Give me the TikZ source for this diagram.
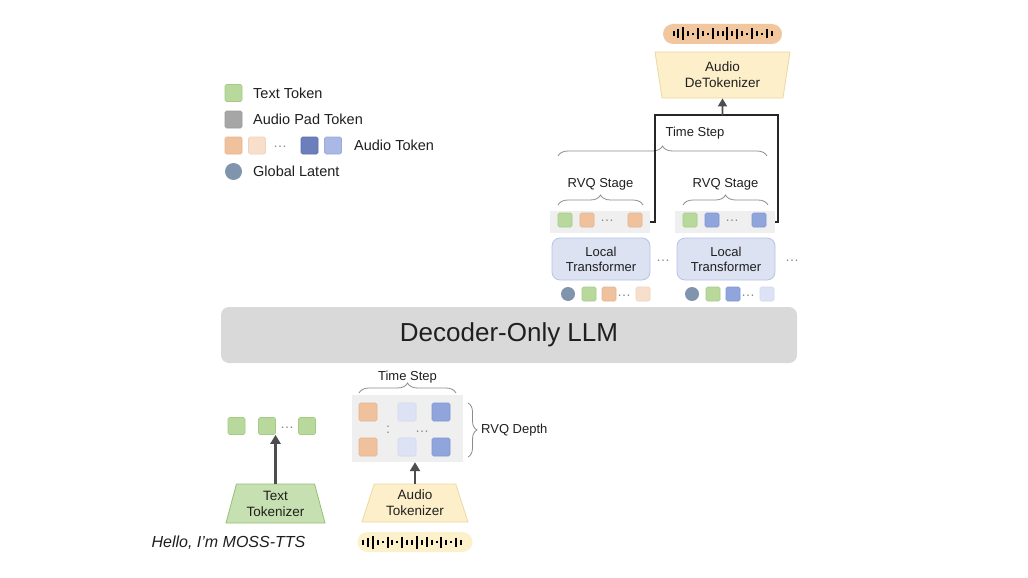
\documentclass[tikz,border=0pt]{standalone}
\usepackage{fontspec}
\setmainfont{Liberation Sans}
\usetikzlibrary{shapes.geometric,arrows.meta,decorations.pathreplacing,calc}
\definecolor{tgreen}{HTML}{B8D99B}
\definecolor{tgreenD}{HTML}{A3CB86}
\definecolor{tpad}{HTML}{A6A6A6}
\definecolor{tpadD}{HTML}{9A9A9A}
\definecolor{torange}{HTML}{EFC19D}
\definecolor{torangeD}{HTML}{E6B38E}
\definecolor{tlorange}{HTML}{F8DFCB}
\definecolor{tlorangeD}{HTML}{F1D2BB}
\definecolor{tdblue}{HTML}{6C7FBB}
\definecolor{tdblueD}{HTML}{5C70AE}
\definecolor{tlblue}{HTML}{A9B8E4}
\definecolor{tlblueD}{HTML}{9AABDC}
\definecolor{tmblue}{HTML}{8FA5DC}
\definecolor{tmblueD}{HTML}{7F96D2}
\definecolor{tvlblue}{HTML}{DDE3F4}
\definecolor{tvlblueD}{HTML}{D0D8EF}
\definecolor{tlatent}{HTML}{8194AE}
\definecolor{ltfill}{HTML}{DCE2F2}
\definecolor{ltdraw}{HTML}{B5C3E7}
\definecolor{llmfill}{HTML}{D9D9D9}
\definecolor{stripc}{HTML}{EFEFEF}
\definecolor{yfill}{HTML}{FCEFC9}
\definecolor{ydraw}{HTML}{EBD9A3}
\definecolor{gfill}{HTML}{C6E0B1}
\definecolor{gdraw}{HTML}{94C075}
\definecolor{opill}{HTML}{F2C79E}
\definecolor{ypill}{HTML}{FDF1CC}
\definecolor{bracec}{HTML}{8C8C8C}
\definecolor{dotc}{HTML}{8A8A8A}
\definecolor{txt}{HTML}{1F1F1F}
\definecolor{arrc}{HTML}{4D4D4D}
\begin{document}
\begin{tikzpicture}[x=1pt,y=-1pt,
  tok/.style={rectangle, rounded corners=1.5pt, inner sep=0pt, minimum size=14pt, line width=0.6pt},
  big/.style={minimum size=17pt},
  mid/.style={minimum size=18pt},
  gtok/.style={tok, fill=tgreen, draw=tgreenD},
  padtok/.style={tok, fill=tpad, draw=tpadD},
  otok/.style={tok, fill=torange, draw=torangeD},
  lotok/.style={tok, fill=tlorange, draw=tlorangeD},
  dbtok/.style={tok, fill=tdblue, draw=tdblueD},
  lbtok/.style={tok, fill=tlblue, draw=tlblueD},
  mbtok/.style={tok, fill=tmblue, draw=tmblueD},
  vbtok/.style={tok, fill=tvlblue, draw=tvlblueD},
  latent/.style={circle, inner sep=0pt, minimum size=14pt, fill=tlatent},
  lbl/.style={text=txt, inner sep=0pt, anchor=west, font=\fontsize{14.5}{14.5}\selectfont},
  small/.style={text=txt, inner sep=0pt, font=\fontsize{13}{13}\selectfont},
  dotsn/.style={text=dotc, inner sep=0pt, font=\fontsize{14}{14}\selectfont},
  stripbox/.style={rectangle, fill=stripc, inner sep=0pt, minimum width=100pt, minimum height=22pt},
  localbox/.style={rectangle, rounded corners=8pt, fill=ltfill, draw=ltdraw, line width=0.8pt,
     minimum width=98pt, minimum height=42pt, align=center, text=txt, font=\fontsize{13}{15}\selectfont},
  tz/.style={trapezium, trapezium stretches body, inner sep=0pt, align=center, line width=0.8pt,
     text=txt, font=\fontsize{13.5}{16}\selectfont},
  pill/.style={rectangle, rounded corners=10pt, inner sep=0pt, minimum width=117pt, minimum height=20pt},
  bracestyle/.style={draw=bracec, line width=0.8pt, decorate, decoration={brace, amplitude=10pt}},
  conn/.style={draw=black!85, line width=1.3pt},
  arr/.style={draw=arrc, line width=2.3pt, -{Triangle[width=10pt,length=9pt]}},
  bar/.style={draw=black, line width=2pt}
]
\fill[white] (0,0) rectangle (1028,578);
\useasboundingbox (0,0) rectangle (1028,578);

% ---------------- Legend
\node[gtok, big] (lg1) at (233.5,93) {};
\node[lbl] (lt1) at (253,93) {Text Token};
\node[padtok, big] (lg2) at (233.5,119.5) {};
\node[lbl] (lt2) at (253,119.5) {Audio Pad Token};
\node[otok, big] (lg3a) at (233.5,145.5) {};
\node[lotok, big] (lg3b) at (257,145.5) {};
\node[dotsn] (lg3c) at (280,147) {…};
\node[dbtok, big] (lg3d) at (309.5,145.5) {};
\node[lbtok, big] (lg3e) at (333,145.5) {};
\node[lbl] (lt3) at (354,145.5) {Audio Token};
\node[latent, minimum size=17pt] (lg4) at (233.5,171.5) {};
\node[lbl] (lt4) at (253,171.5) {Global Latent};

% ---------------- Top: detokenizer and waveform
\node[pill, fill=opill, minimum width=119pt] (wtop) at (722.5,34) {};
\foreach \h [count=\i] in {5,9,13,5,2.5,11,5,2.5,11,5,5,13,5,10,5,2.5,11,5,2.5,9,5}
  \draw[bar] ($(wtop.center)+({(\i-11)*4.9},{-\h/2})$) -- ++(0,\h);
\node[tz, shape border rotate=180, trapezium angle=74.8, minimum width=135pt, minimum height=46pt,
      fill=yfill, draw=ydraw] (detok) at (722.5,75) {Audio\\DeTokenizer};

% ---------------- Local transformer stages
\node[small] (ts1) at (695,133) {Time Step};
\draw[bracestyle] (558,156) -- (767,156);
\node[small] (rs1) at (600.5,184) {RVQ Stage};
\node[small] (rs2) at (725.5,184) {RVQ Stage};
\draw[bracestyle] (558,205) -- (643,205);
\draw[bracestyle] (683,205) -- (768,205);

\node[stripbox] (s1) at (600,222) {};
\node[stripbox] (s2) at (725,222) {};
\node[gtok] (s1a) at (565,220) {};
\node[otok] (s1b) at (587,220) {};
\node[dotsn] (s1c) at (607,221) {…};
\node[otok] (s1d) at (635,220) {};
\node[gtok] (s2a) at (690,220) {};
\node[mbtok] (s2b) at (712,220) {};
\node[dotsn] (s2c) at (732,221) {…};
\node[mbtok] (s2d) at (759,220) {};

\coordinate (jl) at (655,115);
\coordinate (jm) at (722.5,115);
\coordinate (jr) at (778,115);
\draw[conn] (s1.east) -| (jl) -- (jr) |- (s2.east);
\draw[arr, line width=1.8pt, -{Triangle[width=9pt,length=8pt]}] (jm) -- (detok.south);

\node[localbox] (lt1b) at (601,259) {Local\\Transformer};
\node[localbox] (lt2b) at (726,259) {Local\\Transformer};
\node[dotsn] (ld1) at (663,261) {…};
\node[dotsn] (ld2) at (792,261) {…};

\node[latent] (b1a) at (568,294) {};
\node[gtok] (b1b) at (589,294) {};
\node[otok] (b1c) at (609,294) {};
\node[dotsn] (b1d) at (624,296) {…};
\node[lotok] (b1e) at (643,294) {};
\node[latent] (b2a) at (692,294) {};
\node[gtok] (b2b) at (713,294) {};
\node[mbtok] (b2c) at (733,294) {};
\node[dotsn] (b2d) at (748,296) {…};
\node[vbtok] (b2e) at (767,294) {};

% ---------------- LLM
\node[rectangle, rounded corners=8pt, fill=llmfill, minimum width=576pt, minimum height=56pt,
      text=txt, font=\fontsize{26}{26}\selectfont] (llm) at (509,335) {Decoder-Only LLM};

% ---------------- Bottom: text side
\node[gtok, big] (bt1) at (236.5,426) {};
\node[gtok, big] (bt2) at (267,426) {};
\node[dotsn] (bt3) at (287,428) {…};
\node[gtok, big] (bt4) at (307,426) {};
\node[tz, trapezium angle=67.7, minimum width=99pt, minimum height=39pt,
      fill=gfill, draw=gdraw] (ttok) at (275.5,503.5) {Text\\Tokenizer};
\draw[arr] (ttok.north) -- (ttok.north |- bt2.south);
\node[text=txt, inner sep=0pt, font=\itshape\fontsize{16}{16}\selectfont] (hello) at (228.5,543) {Hello, I'm MOSS-TTS};

% ---------------- Bottom: audio side
\node[small] (ts2) at (407.5,377) {Time Step};
\draw[bracestyle] (359,393) -- (456,393);
\node[rectangle, fill=stripc, inner sep=0pt, minimum width=111pt, minimum height=67pt] (grid) at (407.5,428.5) {};
\node[otok, mid] (g1) at (368,412) {};
\node[vbtok, mid] (g2) at (407,412) {};
\node[mbtok, mid] (g3) at (441,412) {};
\node[otok, mid] (g4) at (368,447) {};
\node[vbtok, mid] (g5) at (407,447) {};
\node[mbtok, mid] (g6) at (441,447) {};
\node[dotsn] (gc) at (388,430) {:};
\node[dotsn] (gd) at (422,432) {…};
\draw[bracestyle, decoration={brace, amplitude=9pt}] (468,403) -- (468,457);
\node[small, anchor=west] (rd) at (481,430) {RVQ Depth};

\node[tz, trapezium angle=64.7, minimum width=106pt, minimum height=38pt,
      fill=yfill, draw=ydraw] (atok) at (415,503) {Audio\\Tokenizer};
\draw[arr] (atok.north) -- (atok.north |- grid.south);

\node[pill, fill=ypill, minimum width=115pt] (wbot) at (415,542) {};
\foreach \h [count=\i] in {5,9,13,5,2.5,11,5,2.5,11,5,5,13,5,10,5,2.5,11,5,2.5,9,5}
  \draw[bar] ($(wbot.center)+({(\i-11)*4.9-3},{-\h/2})$) -- ++(0,\h);
\end{tikzpicture}
\end{document}
